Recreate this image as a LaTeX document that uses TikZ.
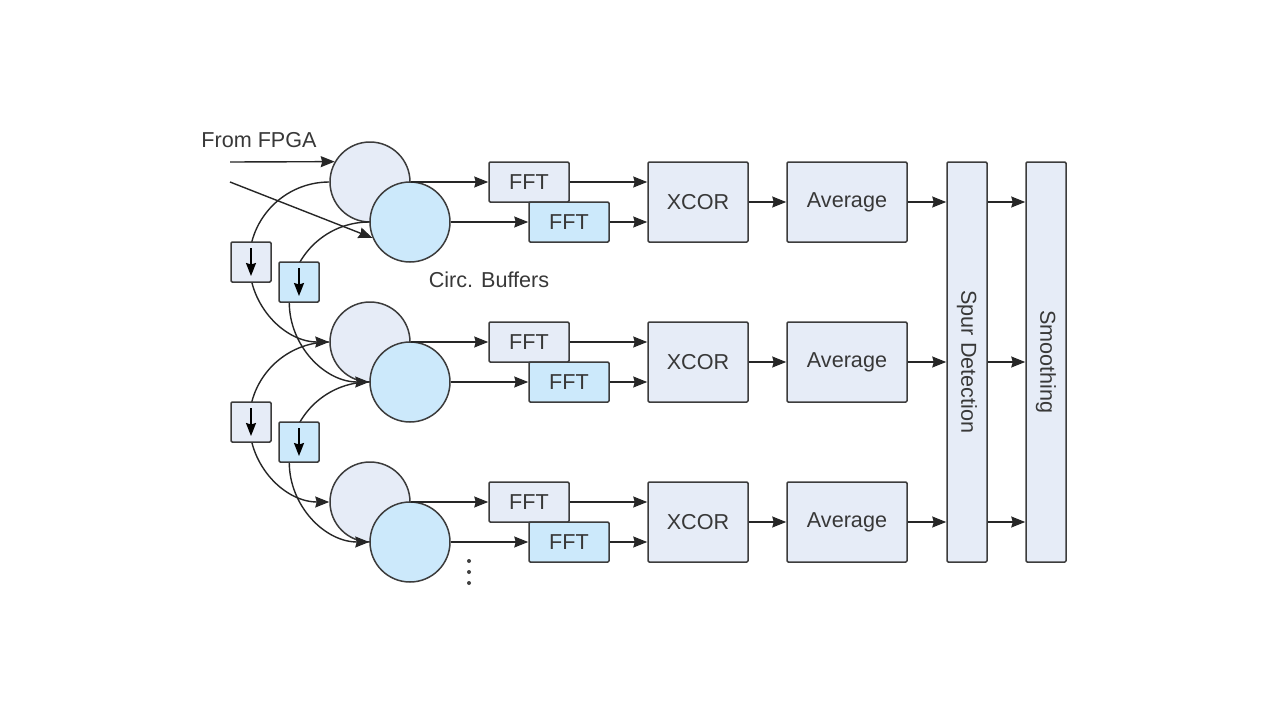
\documentclass[tikz,border=0pt]{standalone}
\usepackage{fontspec}
\setmainfont{Liberation Sans}
\usetikzlibrary{arrows.meta}
\definecolor{gfill}{HTML}{E6ECF7}
\definecolor{bfill}{HTML}{CCE9FB}
\definecolor{edgec}{HTML}{3C3C3C}
\definecolor{txtc}{HTML}{383838}
\begin{document}
\begin{tikzpicture}[x=1pt,y=-1pt,
  every node/.style={font=\fontsize{21.6}{26}\selectfont, text=txtc},
  shp/.style={draw=edgec, line width=1.5pt, inner sep=0pt},
  gbuf/.style={shp, circle, fill=gfill, minimum size=80pt},
  bbuf/.style={shp, circle, fill=bfill, minimum size=80pt},
  blk/.style={shp, rectangle, rounded corners=1.2pt, fill=gfill},
  fftg/.style={blk, minimum width=80pt, minimum height=40pt},
  fftb/.style={blk, fill=bfill, minimum width=80pt, minimum height=40pt},
  xcor/.style={blk, minimum width=100pt, minimum height=80pt},
  avgbox/.style={blk, minimum width=120pt, minimum height=80pt},
  tallbox/.style={blk, minimum width=40pt, minimum height=400pt},
  dlyg/.style={blk, minimum width=40pt, minimum height=40pt},
  dlyb/.style={blk, fill=bfill, minimum width=40pt, minimum height=40pt},
  conn/.style={draw=black!85, line width=1.4pt},
  arr/.style={conn, -{Stealth[length=14pt,width=11pt,inset=1.5pt]}},
  darr/.style={draw=black, line width=2pt, -{Stealth[length=13pt,width=10pt,inset=1.5pt]}},
  dotc/.style={fill=black!75, draw=none}
]
\useasboundingbox[fill=white] (0,0) rectangle (1280,720);

% tall blocks
\node[tallbox] (spur) at (967,362) {};
\node[rotate=-90] (spurt) at (spur.center) {Spur Detection};
\node[tallbox] (smooth) at (1046,362) {};
\node[rotate=-90] (smootht) at (smooth.center) {Smoothing};

% buffer circles and processing rows
\foreach \i in {0,1,2}{
  \pgfmathsetmacro{\oy}{160*\i}
  \node[gbuf] (g\i) at (370,182+\oy) {};
  \node[bbuf] (b\i) at (410,222+\oy) {};
  \node[fftg] (fa\i) at (529,182+\oy) {FFT};
  \node[fftb] (fb\i) at (569,222+\oy) {FFT};
  \node[xcor] (x\i) at (698,202+\oy) {XCOR};
  \node[avgbox] (a\i) at (847,202+\oy) {Average};
  \draw[arr] (g\i.east) -- (fa\i.west);
  \draw[arr] (b\i.east) -- (fb\i.west);
  \draw[arr] (fa\i.east) -- (fa\i.east -| x\i.west);
  \draw[arr] (fb\i.east) -- (fb\i.east -| x\i.west);
  \draw[arr] (x\i.east) -- (a\i.west);
  \draw[arr] (a\i.east) -- (a\i.east -| spur.west);
  \draw[arr] (a\i.east -| spur.east) -- (a\i.east -| smooth.west);
}

% feedback arcs between circular buffers
\draw[arr] (g0.west) arc[start angle=90, end angle=270, radius=80pt];
\draw[arr] (b0.west) arc[start angle=90, end angle=270, radius=80pt];
\draw[arr] (g1.west) arc[start angle=90, end angle=270, radius=80pt];
\draw[arr] (b1.west) arc[start angle=90, end angle=270, radius=80pt];

% delay boxes
\node[dlyg] (dg1) at (251,262) {};
\node[dlyb] (db1) at (299,282) {};
\node[dlyg] (dg2) at (251,422) {};
\node[dlyb] (db2) at (299,442) {};
\foreach \d in {dg1,db1,dg2,db2}{
  \draw[darr] ([yshift=14pt]\d.center) -- ([yshift=-14pt]\d.center);
}

% inputs
\node (fpga) at (259,140) {From FPGA};
\coordinate (in1) at (230,162);
\coordinate (in2) at (230,182);
\draw[arr] (in1) -- (g0.150);
\draw[arr] (in2) -- (b0.203);

\node (circ) at (489,280) {Circ. Buffers};
\fill[dotc] (469,561) circle (2pt) (469,572) circle (2pt) (469,583) circle (2pt);
\end{tikzpicture}
\end{document}
